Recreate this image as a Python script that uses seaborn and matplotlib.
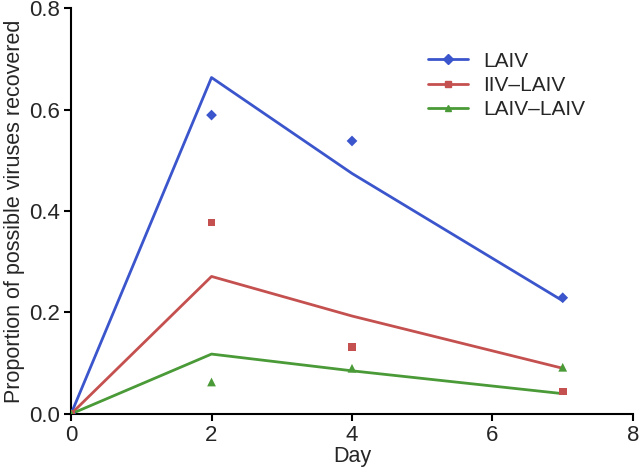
import matplotlib
matplotlib.use("Agg")
import matplotlib.pyplot as plt
from matplotlib.lines import Line2D
import pandas as pd
import seaborn as sns

days = [0, 2, 4, 7]
groups = ["LAIV", "IIV\u2013LAIV", "LAIV\u2013LAIV"]

# observed proportions (markers)
laiv_obs = [0.0, 0.589, 0.538, 0.229]
iiv_laiv_obs = [0.0, 0.377, 0.132, 0.044]
laiv_laiv_obs = [0.0, 0.063, 0.090, 0.092]

# model fit (lines)
laiv_fit = [0.0, 0.663, 0.474, 0.223]
iiv_laiv_fit = [0.0, 0.271, 0.193, 0.090]
laiv_laiv_fit = [0.0, 0.118, 0.085, 0.040]

colors = ["#3b55cc", "#c4514f", "#4a9a38"]
markers = ["D", "s", "^"]
msizes = [30, 30, 40]

sns.set_style("ticks")
plt.rcParams["font.family"] = ["Liberation Sans", "DejaVu Sans"]

fig, ax = plt.subplots(figsize=(6.4, 4.72), dpi=100)
fig.subplots_adjust(left=0.111, right=0.989, bottom=0.123, top=0.983)

obs = [laiv_obs, iiv_laiv_obs, laiv_laiv_obs]
fit = [laiv_fit, iiv_laiv_fit, laiv_laiv_fit]

for g, o, f, c, m, s in zip(groups, obs, fit, colors, markers, msizes):
    df = pd.DataFrame({"day": days, "obs": o, "fit": f})
    sns.lineplot(data=df, x="day", y="fit", color=c, linewidth=2, ax=ax)
    sns.scatterplot(data=df, x="day", y="obs", color=c, marker=m, s=s,
                    edgecolor="none", ax=ax, zorder=3)

ax.set_xlim(0, 8)
ax.set_ylim(0, 0.8)
ax.set_xticks([0, 2, 4, 6, 8])
ax.set_yticks([0.0, 0.2, 0.4, 0.6, 0.8])
ax.set_yticklabels(["0.0", "0.2", "0.4", "0.6", "0.8"])
ax.tick_params(labelsize=16, width=1.5, length=5, color="black", pad=3)
for sp in ["left", "bottom"]:
    ax.spines[sp].set_linewidth(1.5)
    ax.spines[sp].set_color("black")
sns.despine(ax=ax)
ax.set_xlabel("Day", fontsize=15.5, labelpad=0)
ax.set_ylabel("Proportion of possible viruses recovered", fontsize=15.5, labelpad=3)

handles = [Line2D([0], [0], color=c, marker=m, markersize=5, linewidth=2)
           for c, m in zip(colors, markers)]
ax.legend(handles, groups, loc="upper left", bbox_to_anchor=(0.656, 0.908),
          bbox_transform=fig.transFigure, borderaxespad=0,
          frameon=False, fontsize=15, handlelength=1.9, handletextpad=0.75,
          labelspacing=0.25)

fig.savefig("out.png", dpi=100)
